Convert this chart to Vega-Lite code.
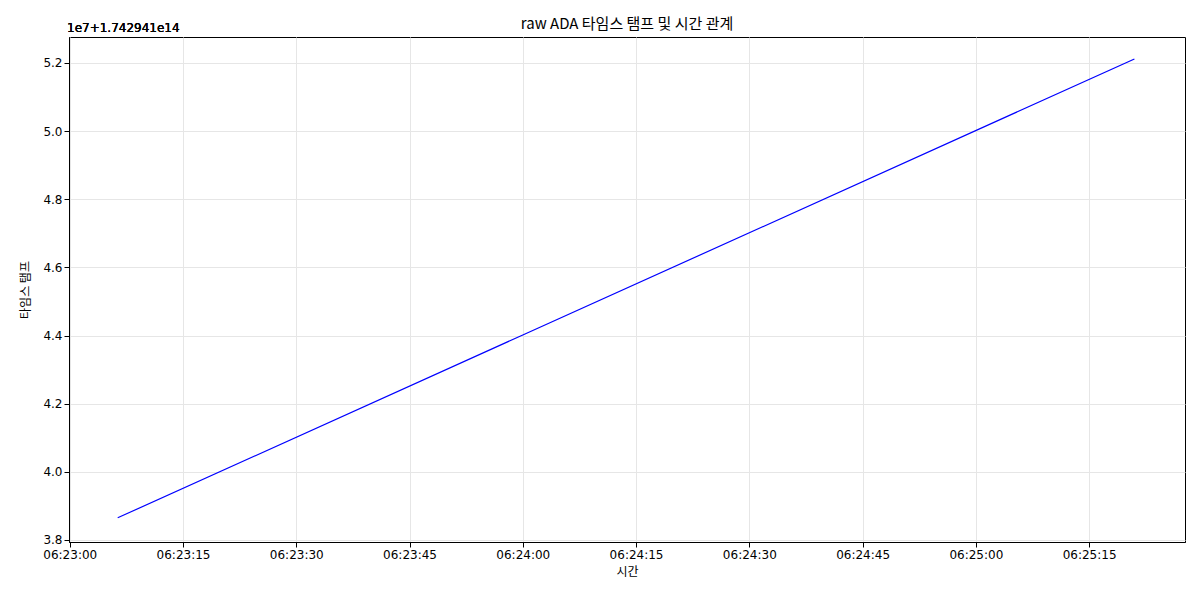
{
  "$schema": "https://vega.github.io/schema/vega-lite/v6.json",
  "width": 1116,
  "height": 505,
  "autosize": {"type": "none"},
  "padding": {"left": 69, "top": 37, "right": 15, "bottom": 58},
  "background": "white",
  "config": {
    "font": "DejaVu Sans",
    "view": {"stroke": "black", "strokeWidth": 1},
    "axis": {"labelFontSize": 12, "titleFontSize": 12, "titleFontWeight": "normal", "labelColor": "black", "titleColor": "black", "domainColor": "black", "tickColor": "black", "gridColor": "#e6e6e6", "grid": true, "labelFont": "DejaVu Sans", "titleFont": "Noto Sans CJK KR"}
  },
  "title": {"text": "raw ADA 타임스 탬프 및 시간 관계", "fontSize": 15, "fontWeight": "normal", "font": "Noto Sans CJK KR", "color": "black", "offset": -10},
  "data": {"values": [
    {"t": "2025-03-25T06:23:06.350Z", "ts": 174294138650000},
    {"t": "2025-03-25T06:24:00.000Z", "ts": 174294144015000},
    {"t": "2025-03-25T06:25:21.000Z", "ts": 174294152115000}
  ]},
  "layer": [
    {
      "mark": {"type": "line", "color": "blue", "strokeWidth": 1.2},
      "encoding": {
        "x": {"field": "t", "type": "temporal", "title": "시간",
          "scale": {"type": "utc", "domain": ["2025-03-25T06:22:59.9Z", "2025-03-25T06:25:27.7Z"]},
          "axis": {"labelExpr": "utcFormat(datum.value, '%H:%M:%S')", "values": [
            "2025-03-25T06:23:00Z","2025-03-25T06:23:15Z","2025-03-25T06:23:30Z","2025-03-25T06:23:45Z","2025-03-25T06:24:00Z","2025-03-25T06:24:15Z","2025-03-25T06:24:30Z","2025-03-25T06:24:45Z","2025-03-25T06:25:00Z","2025-03-25T06:25:15Z"],
            "labelFlush": false, "titlePadding": 6}},
        "y": {"field": "ts", "type": "quantitative", "title": "타임스 탬프",
          "scale": {"domain": [174294137940000, 174294152760000], "zero": false, "nice": false},
          "axis": {"values": [174294138000000,174294140000000,174294142000000,174294144000000,174294146000000,174294148000000,174294150000000,174294152000000],
            "labelExpr": "format((datum.value - 174294100000000) / 10000000, '.1f')", "titlePadding": 10}}
      }
    },
    {
      "mark": {"type": "text", "text": "1e7+1.742941e14", "align": "left", "baseline": "bottom", "fontSize": 12, "fontWeight": "normal", "color": "black", "dx": -2, "dy": -2},
      "encoding": {"x": {"datum": 0, "type": "quantitative", "scale": null}, "y": {"datum": 0, "type": "quantitative", "scale": null}}
    }
  ]
}
